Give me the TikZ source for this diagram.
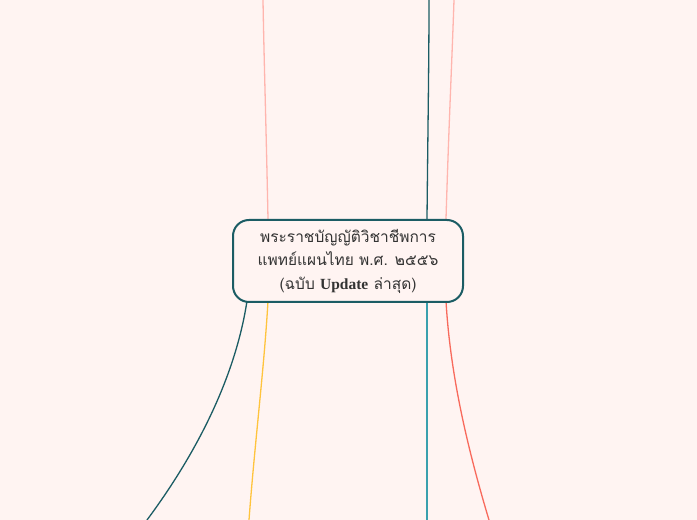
\documentclass[tikz,border=0pt]{standalone}
\usepackage{fontspec}
\newfontfamily\thaifont[Script=Thai]{Loma}
\newfontfamily\latinserif{Liberation Serif}
\definecolor{bg}{HTML}{FFF4F2}
\definecolor{darkteal}{HTML}{1B5C64}
\definecolor{teal2}{HTML}{3AA0AE}
\definecolor{pinkl}{HTML}{FFB5AE}
\definecolor{yel}{HTML}{FFC43D}
\definecolor{coral}{HTML}{F86A5C}
\definecolor{txt}{HTML}{333333}
\begin{document}
\begin{tikzpicture}[x=1pt,y=1pt,
  mainbox/.style={draw=darkteal,line width=2pt,rounded corners=16pt,fill=bg,minimum width=230pt,minimum height=82pt,align=center,text=txt,font=\thaifont\fontsize{15.5}{23.5}\selectfont,inner sep=0pt},
  branch/.style={line width=1.3pt}]
\fill[bg] (0,0) rectangle (697,520);
\useasboundingbox (0,0) rectangle (697,520);
\coordinate (t1) at (263,520);
\coordinate (t2) at (429,520);
\coordinate (t3) at (454,520);
\coordinate (b1) at (147,0);
\coordinate (b2) at (249,0);
\coordinate (b3) at (427,0);
\coordinate (b4) at (489,0);
\draw[branch,pinkl] (268,301) .. controls (266,400) and (264,460) .. (t1);
\draw[branch,darkteal] (427,301) .. controls (428,400) and (429,460) .. (t2);
\draw[branch,pinkl] (446,301) .. controls (449,400) and (452,460) .. (t3);
\draw[branch,darkteal] (247,219) .. controls (238,160) and (210,85) .. (b1);
\draw[branch,yel] (268,219) .. controls (264,150) and (255,80) .. (b2);
\draw[branch,teal2] (427,219) -- (b3);
\draw[branch,coral] (446,219) .. controls (450,150) and (465,80) .. (b4);
\node[mainbox] (root) at (348,259) {พระราชบัญญัติวิชาชีพการ\\แพทย์แผนไทย พ.ศ. ๒๕๕๖\\(ฉบับ {\latinserif\bfseries Update} ล่าสุด)};
\end{tikzpicture}
\end{document}
